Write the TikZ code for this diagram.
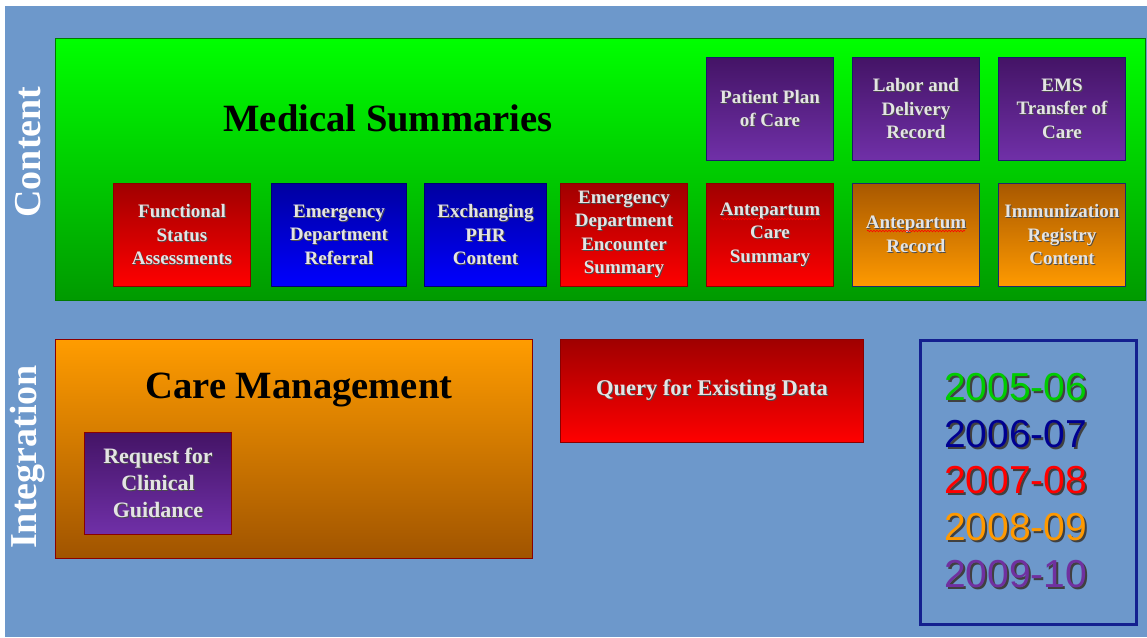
\documentclass[tikz,border=0pt]{standalone}
\usepackage{fontspec}
\setmainfont{Liberation Serif}
\newfontfamily\yearfont{Liberation Sans}
\usetikzlibrary{calc,decorations.pathmorphing}
\definecolor{bgblue}{HTML}{6D98CB}
\definecolor{gtop}{HTML}{00FF00}
\definecolor{gmid}{HTML}{00EA00}
\definecolor{gbot}{HTML}{009A00}
\definecolor{gborder}{HTML}{007A00}
\definecolor{rtop}{HTML}{A00000}
\definecolor{rbot}{HTML}{FF0000}
\definecolor{rborder}{HTML}{8A0000}
\definecolor{btop}{HTML}{0000A0}
\definecolor{bbot}{HTML}{0000FF}
\definecolor{bborder}{HTML}{000070}
\definecolor{ptop}{HTML}{441466}
\definecolor{pbot}{HTML}{7030A8}
\definecolor{pborder}{HTML}{1A1A6A}
\definecolor{otop}{HTML}{A85800}
\definecolor{obot}{HTML}{FF9A00}
\definecolor{oborder}{HTML}{1F2A6A}
\definecolor{cmtop}{HTML}{FF9C00}
\definecolor{cmbot}{HTML}{A05400}
\definecolor{tiletext}{HTML}{E4E4E4}
\definecolor{legendblue}{HTML}{14208F}
\definecolor{ygreen}{HTML}{00CC00}
\definecolor{ynavy}{HTML}{000090}
\definecolor{yred}{HTML}{FF0000}
\definecolor{yorange}{HTML}{FF9900}
\definecolor{ypurple}{HTML}{7030A0}
\newcommand\shd[1]{\leavevmode\rlap{\kern1pt\raisebox{-1pt}{\color{black!70}#1}}#1}
\newcommand\yshd[2]{\leavevmode\rlap{\kern2pt\raisebox{-2pt}{\color{black!75}#2}}{\color{#1}#2}}
\tikzset{
  tile/.style={draw, line width=1pt, anchor=north west, align=center, inner sep=0pt,
    text=tiletext, font=\fontsize{19}{23.5}\selectfont\bfseries,
    minimum width=127pt, minimum height=103pt},
  redgrad/.style={top color=rtop, bottom color=rbot, draw=rborder},
  bluegrad/.style={top color=btop, bottom color=bbot, draw=bborder},
  purpgrad/.style={top color=ptop, bottom color=pbot, draw=pborder},
  orangrad/.style={top color=otop, bottom color=obot, draw=oborder},
  sidelabel/.style={rotate=90, text=white, font=\fontsize{38}{40}\selectfont\bfseries},
  title/.style={text=black, font=\fontsize{38.6}{40}\selectfont\bfseries},
  year/.style={anchor=base west, inner sep=0pt, font=\yearfont\fontsize{39}{40}\selectfont},
  spellwave/.style={draw=red, line width=0.6pt, decorate,
    decoration={snake, amplitude=0.8pt, segment length=3pt}},
}
\begin{document}
\begin{tikzpicture}[x=1pt,y=-1pt]
\useasboundingbox (0,0) rectangle (1147,637);
\fill[white] (0,0) rectangle (1147,637);
\fill[bgblue] (5,6) rectangle (1147,637);
% Content area
\node[draw=gborder, line width=1pt, top color=gtop, middle color=gmid, bottom color=gbot,
  anchor=north west, minimum width=1090pt, minimum height=262pt, inner sep=0pt] (green) at (55,38) {};
\node[title] (medsum) at (388,118) {Medical Summaries};
\node[sidelabel] (content) at (28,152) {Content};
% top row
\node[tile, purpgrad] (ppc) at (706,57) {\shd{Patient Plan}\\\shd{of Care}};
\node[tile, purpgrad] (ldr) at (852,57) {\shd{Labor and}\\\shd{Delivery}\\\shd{Record}};
\node[tile, purpgrad] (ems) at (998,57) {\shd{EMS}\\\shd{Transfer of}\\\shd{Care}};
% bottom row
\node[tile, redgrad, minimum width=137pt] (fsa) at (113,183) {\shd{Functional}\\\shd{Status}\\\shd{Assessments}};
\node[tile, bluegrad, minimum width=135pt] (edr) at (271,183) {\shd{Emergency}\\\shd{Department}\\\shd{Referral}};
\node[tile, bluegrad, minimum width=122pt] (phr) at (424,183) {\shd{Exchanging}\\\shd{PHR}\\\shd{Content}};
\node[tile, redgrad] (edes) at (560,183) {\shd{Emergency}\\\shd{Department}\\\shd{Encounter}\\\shd{Summary}};
\node[tile, redgrad] (acs) at (706,183) {\shd{Antepartum}\\\shd{Care}\\\shd{Summary}};
\node[tile, orangrad] (ar) at (852,183) {\shd{Antepartum}\\\shd{Record}};
\node[tile, orangrad] (irc) at (998,183) {\shd{Immunization}\\\shd{Registry}\\\shd{Content}};
% spell-check marks under "Antepartum"
\draw[spellwave] ($(acs.north)+(-49,36)$) -- ($(acs.north)+(49,36)$);
\draw[spellwave] ($(ar.north)+(-49,48)$) -- ($(ar.north)+(49,48)$);
% Integration area
\node[sidelabel] (integ) at (28,457) {Integration};
\node[draw=rborder, line width=1pt, top color=cmtop, bottom color=cmbot, anchor=north west,
  minimum width=477pt, minimum height=219pt, inner sep=0pt] (cm) at (55,339) {};
\node[title] (cmtitle) at (299,390) {Care Management};
\node[tile, purpgrad, draw=rborder, minimum width=147pt, minimum height=102pt,
  font=\fontsize{22}{27}\selectfont\bfseries] (rcg) at (84,432) {\shd{Request for}\\\shd{Clinical}\\\shd{Guidance}};
\node[tile, redgrad, minimum width=303pt, minimum height=103pt,
  font=\fontsize{22.5}{26}\selectfont\bfseries] (qed) at (560,339) {\shd{Query for Existing Data}};
% legend
\node[draw=legendblue, line width=3pt, anchor=north west, minimum width=216pt, minimum height=284pt,
  inner sep=0pt] (legend) at (919,339) {};
\node[year] (y1) at (944,400) {\yshd{ygreen}{2005-06}};
\node[year] (y2) at (944,447) {\yshd{ynavy}{2006-07}};
\node[year] (y3) at (944,493) {\yshd{yred}{2007-08}};
\node[year] (y4) at (944,540) {\yshd{yorange}{2008-09}};
\node[year] (y5) at (944,587) {\yshd{ypurple}{2009-10}};
\end{tikzpicture}
\end{document}
